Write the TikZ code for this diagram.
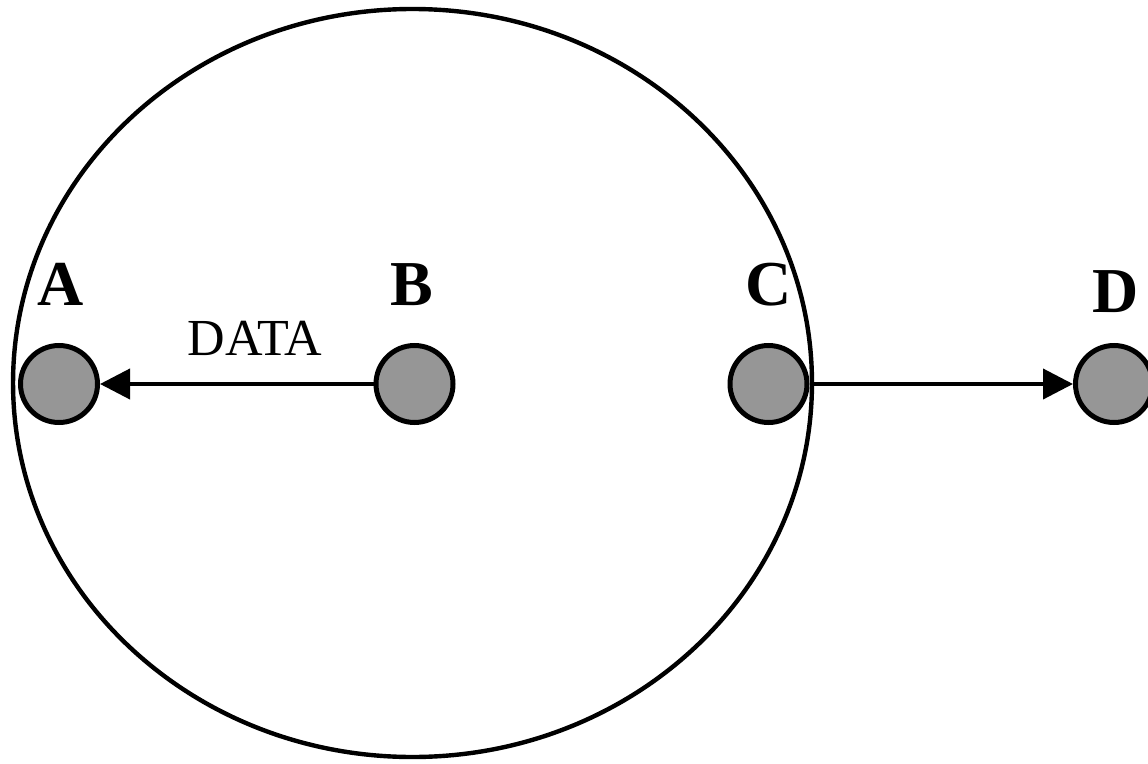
\documentclass[tikz,border=0pt]{standalone}
\usepackage{fontspec}
\setmainfont{Liberation Serif}
\usetikzlibrary{arrows.meta}
\definecolor{dotgray}{RGB}{150,150,150}
\tikzset{
  dot/.style={circle, draw=black, fill=dotgray, line width=3.75pt, minimum size=57.75pt, inner sep=0pt},
  lbl/.style={anchor=base, inner sep=0pt, font=\fontsize{48}{48}\selectfont\bfseries},
  link/.style={line width=3pt, -{Triangle[length=22.5pt,width=22.5pt]}}
}
\begin{document}
\begin{tikzpicture}[x=0.75pt,y=-0.75pt]
\useasboundingbox (0,0) rectangle (1148,763);
\clip (0,0) rectangle (1148,763);
\fill[white] (0,0) rectangle (1148,763);
\draw[line width=3.3pt] (412.5,383) ellipse [x radius=299.6pt, y radius=280.5pt];
\node[dot] (A) at (59,384) {};
\node[dot] (B) at (414.5,384) {};
\node[dot] (C) at (768.5,384) {};
\node[dot] (D) at (1114,384) {};
\node[lbl] (la) at (61,305) {A};
\node[lbl] (lb) at (412,305) {B};
\node[lbl] (lc) at (769,305) {C};
\node[lbl] (ld) at (1116,312) {D};
\node[anchor=base, inner sep=0pt, font=\fontsize{39}{39}\selectfont] (data) at (255,355) {DATA};
\draw[link] (B.west) -- (A.east);
\draw[link] (C.east) -- (D.west);
\end{tikzpicture}
\end{document}
